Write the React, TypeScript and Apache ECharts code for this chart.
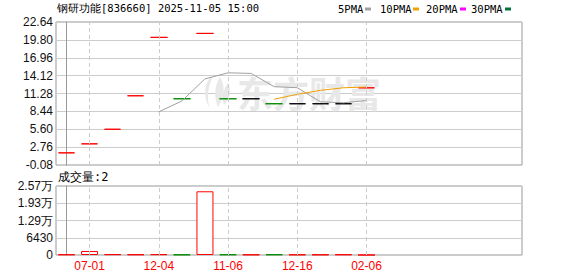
import React, { useEffect, useRef } from 'react';
import * as echarts from 'echarts';

// ---------- data ----------
const TITLE = '钢研功能[836660] 2025-11-05 15:00';
const VOLUME_TITLE = '成交量:2';

const PRICE_MIN = -0.08;
const PRICE_MAX = 22.64;
const PRICE_STEP = 2.84;
const VOL_MAX = 25720;
const VOL_STEP = 6430;

// one-price days: open = close = low = high
const closes = [1.85, 3.28, 5.6, 10.92, 20.2, 10.44, 20.83, 10.44, 10.44, 9.65, 9.65, 9.65, 9.65, 12.18];
const candleTone = ['up', 'up', 'up', 'up', 'up', 'down', 'up', 'down', 'flat', 'down', 'flat', 'flat', 'flat', 'up'];
const volumes = [200, 1500, 300, 200, 300, 150, 23750, 200, 150, 200, 150, 150, 200, 2];
const volumeTone = ['up', 'up', 'up', 'up', 'up', 'down', 'up', 'down', 'up', 'down', 'up', 'up', 'up', 'up'];
const ma5 = [null, null, null, null, 8.37, 10.09, 13.6, 14.57, 14.47, 12.36, 12.2, 9.97, 9.81, 10.16];
const ma10 = [null, null, null, null, null, null, null, null, null, 10.37, 11.15, 11.78, 12.19, 12.31];

const tickIndex = [1, 4, 7, 10, 13];
const tickDates = ['07-01', '12-04', '11-06', '12-16', '02-06'];

const legendNames = ['5PMA', '10PMA', '20PMA', '30PMA'];
const legendColors = ['#a0a0a0', '#f0a000', '#ff00ff', '#00703c'];

// ---------- styles ----------
const TONE: Record<string, string> = { up: '#ff0000', down: '#008a00', flat: '#000000' };
const SANS = 'Liberation Sans';
const MONO = 'DejaVu Sans Mono';

const X_MIN = -0.455;
const X_MAX = 19.738;
const AXIS_SPAN = Math.round((PRICE_MAX - PRICE_MIN) * 100) / 100;
const toAxis = (p: number) => Math.round((p - PRICE_MIN) * 10000) / 10000;

const leafPath =
  'M14 0 C4 10 2 22 10 36 C6 24 8 14 14 0 Z M20 4 C14 14 14 24 18 34 C24 24 26 14 20 4 Z M28 10 C22 18 22 26 24 32 C30 26 32 18 28 10 Z';
let leafRegistered = false;

function buildOption() {
  const candleData = closes.map((c, i) => {
    const col = TONE[candleTone[i]];
    const v = toAxis(c);
    return {
      value: [i, v, v, v, v],
      itemStyle: {
        color: col,
        color0: col,
        borderColor: col,
        borderColor0: col,
        borderColorDoji: col,
        borderWidth: 1,
      },
    };
  });
  const volData = volumes.map((v, i) => {
    const col = TONE[volumeTone[i]];
    return {
      value: [i, v],
      itemStyle: {
        color: volumeTone[i] === 'up' ? '#ffffff' : col,
        borderColor: col,
        borderWidth: 1,
      },
    };
  });
  const maLine = (arr: (number | null)[]) =>
    arr.map((v, i) => (v == null ? null : [i, toAxis(v)])).filter((d) => d !== null);

  const vLines = {
    silent: true,
    symbol: ['none', 'none'],
    label: { show: false },
    lineStyle: { color: '#cccccc', type: [4, 3], width: 1 },
    data: tickIndex.map((i) => ({ xAxis: i })),
  };

  const xBase = {
    type: 'value',
    min: X_MIN,
    max: X_MAX,
    axisLine: { show: false },
    axisTick: { show: false },
    splitLine: { show: false },
  };

  const legendGraphics: any[] = [];
  const legendX = [338, 380, 426, 471];
  const markerX = [365, 413, 460, 505];
  legendNames.forEach((n, i) => {
    legendGraphics.push({
      type: 'text',
      x: legendX[i],
      y: 9,
      z: 20,
      style: { text: n, fill: '#000', fontSize: 10.5, fontFamily: MONO, verticalAlign: 'middle' },
    });
    legendGraphics.push({
      type: 'rect',
      x: markerX[i],
      y: 7.5,
      z: 20,
      shape: { x: 0, y: 0, width: 6, height: 3 },
      style: { fill: legendColors[i] },
    });
  });

  return {
    animation: false,
    backgroundColor: '#ffffff',
    grid: [
      { left: 56, top: 22, width: 466, height: 143, show: true, borderColor: '#999999', borderWidth: 1, containLabel: false },
      { left: 56, top: 186, width: 466, height: 69, show: true, borderColor: '#999999', borderWidth: 1, containLabel: false },
    ],
    xAxis: [
      { ...xBase, gridIndex: 0, axisLabel: { show: false } },
      {
        ...xBase,
        gridIndex: 1,
        axisLabel: {
          show: true,
          customValues: tickIndex,
          formatter: (v: number) => {
            const k = tickIndex.indexOf(Math.round(v));
            return k >= 0 ? tickDates[k] : '';
          },
          color: '#ff0000',
          fontSize: 12,
          fontFamily: SANS,
          margin: 5,
        },
      },
    ],
    yAxis: [
      {
        type: 'value',
        gridIndex: 0,
        min: 0,
        max: AXIS_SPAN,
        interval: PRICE_STEP,
        axisLine: { show: true, lineStyle: { color: '#999999' } },
        axisTick: { show: false },
        axisLabel: {
          formatter: (v: number) => (v + PRICE_MIN).toFixed(2),
          color: '#111111',
          fontSize: 12,
          fontFamily: SANS,
          margin: 3,
        },
        splitLine: { show: true, lineStyle: { color: '#cccccc', width: 1 } },
      },
      {
        type: 'value',
        gridIndex: 1,
        min: 0,
        max: VOL_MAX,
        interval: VOL_STEP,
        axisLine: { show: true, lineStyle: { color: '#999999' } },
        axisTick: { show: false },
        axisLabel: {
          formatter: (v: number) => (v >= 10000 ? (v / 10000).toFixed(2) + '万' : String(v)),
          color: '#111111',
          fontSize: 12,
          fontFamily: SANS,
          margin: 3,
        },
        splitLine: { show: true, lineStyle: { color: '#cccccc', width: 1 } },
      },
    ],
    series: [
      {
        type: 'candlestick',
        name: 'K',
        xAxisIndex: 0,
        yAxisIndex: 0,
        barWidth: 17,
        encode: { x: 0, y: [1, 2, 3, 4] },
        data: candleData,
        markLine: vLines,
        z: 3,
      },
      {
        type: 'line',
        name: '5PMA',
        xAxisIndex: 0,
        yAxisIndex: 0,
        data: maLine(ma5),
        symbol: 'none',
        lineStyle: { color: legendColors[0], width: 1 },
        itemStyle: { color: legendColors[0] },
        z: 4,
      },
      {
        type: 'line',
        name: '10PMA',
        xAxisIndex: 0,
        yAxisIndex: 0,
        data: maLine(ma10),
        symbol: 'none',
        lineStyle: { color: legendColors[1], width: 1 },
        itemStyle: { color: legendColors[1] },
        z: 4,
      },
      {
        type: 'bar',
        name: 'VOL',
        xAxisIndex: 1,
        yAxisIndex: 1,
        barWidth: 17,
        data: volData,
        markLine: vLines,
        z: 3,
      },
    ],
    graphic: [
      {
        type: 'emLeaf',
        x: 200,
        y: 73,
        z: 1,
        silent: true,
        style: { fill: '#e8e8e8' },
      },
      {
        type: 'text',
        x: 237,
        y: 92,
        z: 1,
        silent: true,
        style: {
          text: '东方财富',
          fill: '#e8e8e8',
          fontSize: 36,
          fontWeight: 'bold',
          fontFamily: 'Noto Sans CJK SC',
          verticalAlign: 'middle',
        },
      },
      {
        type: 'text',
        x: 57,
        y: 8,
        z: 20,
        style: { text: TITLE, fill: '#000', fontSize: 10.5, fontFamily: MONO, verticalAlign: 'middle' },
      },
      {
        type: 'text',
        x: 58,
        y: 177,
        z: 20,
        style: { text: VOLUME_TITLE, fill: '#000', fontSize: 12, fontFamily: MONO, verticalAlign: 'middle' },
      },
      ...legendGraphics,
    ],
  };
}

export default function App() {
  const ref = useRef<HTMLDivElement>(null);
  useEffect(() => {
    document.body.style.margin = '0';
    if (!leafRegistered) {
      echarts.graphic.registerShape('emLeaf', echarts.graphic.extendPath(leafPath, {}));
      leafRegistered = true;
    }
    const chart = echarts.init(ref.current as HTMLDivElement, null, { renderer: 'svg' });
    chart.setOption(buildOption() as any);
    return () => chart.dispose();
  }, []);
  return (
    <div
      ref={ref}
      style={{ width: 578, height: 276, position: 'absolute', left: 0, top: 0, background: '#fff' }}
    />
  );
}
